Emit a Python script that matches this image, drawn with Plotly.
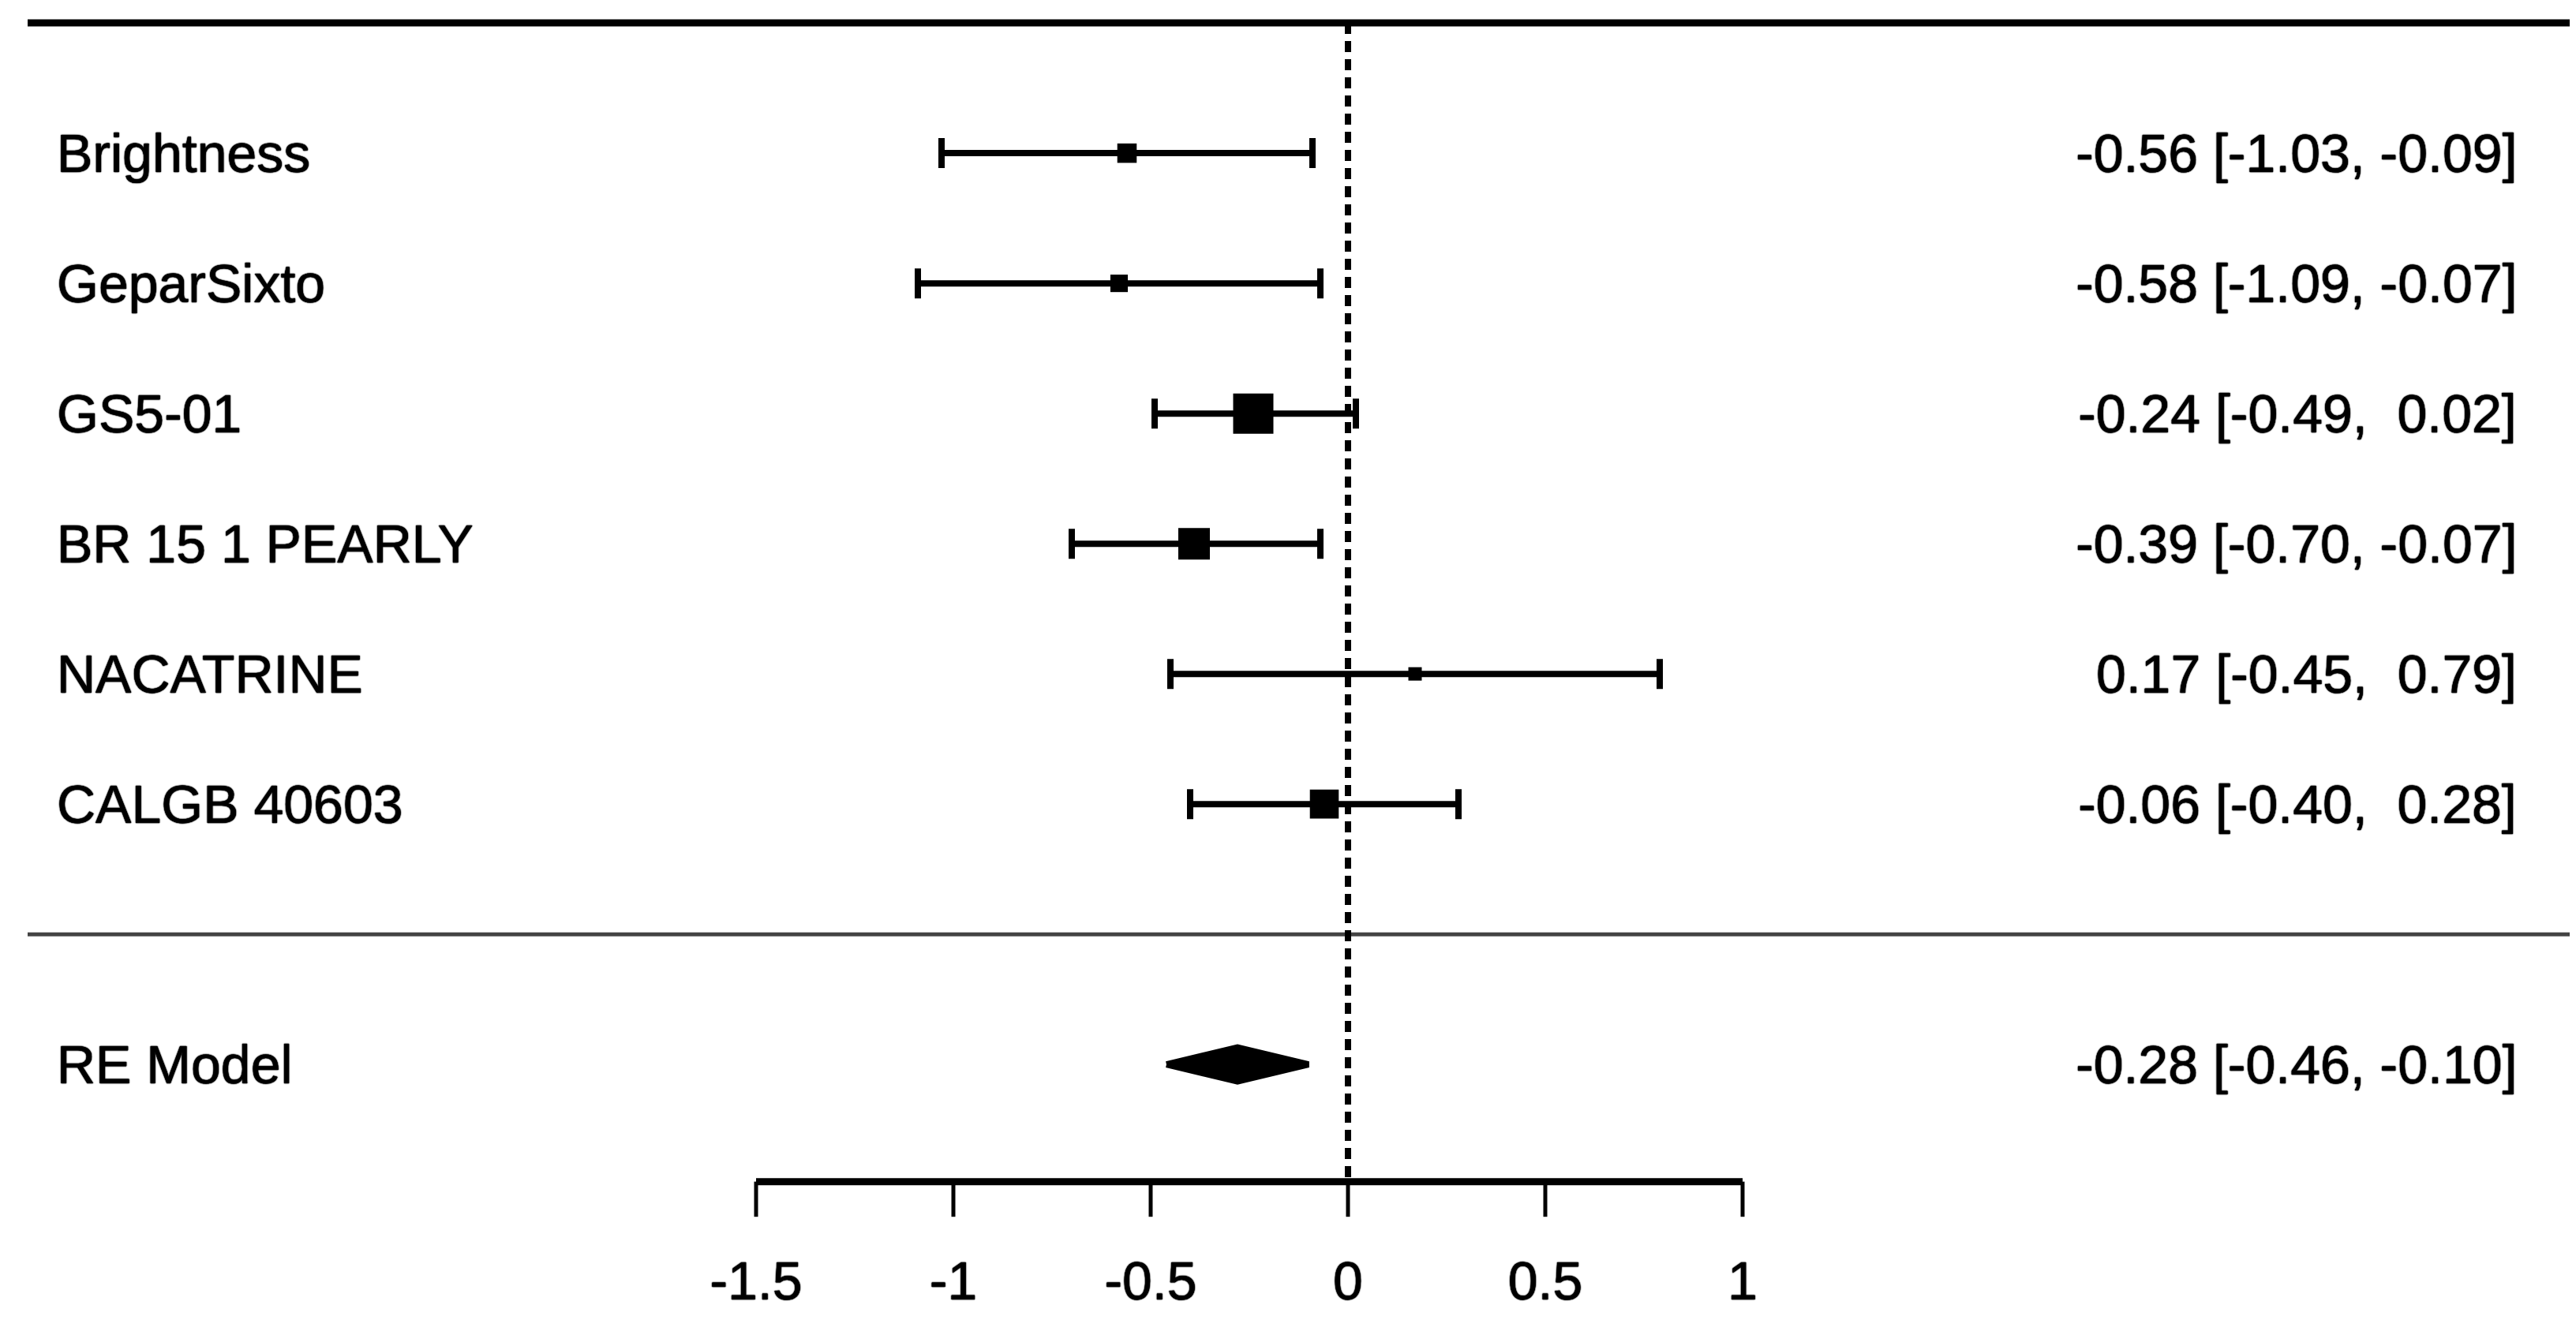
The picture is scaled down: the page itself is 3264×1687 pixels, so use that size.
import plotly.graph_objects as go

# study level effects (mean difference with 95% CI)
studies = ["Brightness", "GeparSixto", "GS5-01", "BR 15 1 PEARLY", "NACATRINE", "CALGB 40603"]
estimate = [-0.56, -0.58, -0.24, -0.39, 0.17, -0.06]
ci_lower = [-1.03, -1.09, -0.49, -0.70, -0.45, -0.40]
ci_upper = [-0.09, -0.07, 0.02, -0.07, 0.79, 0.28]

# pooled random effects model
re_label = "RE Model"
re_estimate = -0.28
re_lower = -0.46
re_upper = -0.10

tick_values = [-1.5, -1, -0.5, 0, 0.5, 1]
tick_labels = ["-1.5", "-1", "-0.5", "0", "0.5", "1"]

FONT = "Liberation Sans, Arial, sans-serif"
FSIZE = 68
SHADOW = "0px 0px 1.5px black, 0px 0px 1.5px black, 0px 0px 1px black"

k = len(studies)
rows = list(range(k, 0, -1))
re_row = -1
axis_y = -1.9

# marker size like metafor: linear in 1/se, rescaled to 0.5..1.5
inv_se = [3.92 / (u - l) for l, u in zip(ci_lower, ci_upper)]
lo_w, hi_w = min(inv_se), max(inv_se)
psize = [0.5 + (w - lo_w) / (hi_w - lo_w) for w in inv_se]
msize = [34 * p for p in psize]

X_MIN, X_MAX = -3.40, 3.128
Y_MIN, Y_MAX = -3.096, 7.128


def fmt(v, width):
    return f"{v:.2f}".rjust(width)


all_vals = estimate + ci_lower + ci_upper + [re_estimate, re_lower, re_upper]
w = max(len(f"{v:.2f}") for v in all_vals)


def ci_text(e, l, u):
    s = f"{fmt(e, w)} [{fmt(l, w)}, {fmt(u, w)}]"
    return s.replace(" ", "\u00a0")


label_font = dict(family=FONT, size=FSIZE, color="black", shadow=SHADOW)

fig = go.Figure()

# study CIs with squares
fig.add_trace(go.Scatter(
    x=estimate, y=rows,
    mode="markers",
    marker=dict(symbol="square", size=msize, color="black", opacity=1, line=dict(width=0)),
    error_x=dict(
        type="data", symmetric=False,
        array=[u - e for e, u in zip(estimate, ci_upper)],
        arrayminus=[e - l for e, l in zip(estimate, ci_lower)],
        color="black", thickness=8, width=19,
    ),
    showlegend=False, hoverinfo="skip",
))

# pooled diamond
h = 0.13
fig.add_trace(go.Scatter(
    x=[re_lower, re_estimate, re_upper, re_estimate, re_lower],
    y=[re_row, re_row + h, re_row, re_row - h, re_row],
    mode="lines", fill="toself", fillcolor="black",
    line=dict(color="black", width=8),
    showlegend=False, hoverinfo="skip",
))

# x axis drawn in data space
fig.add_trace(go.Scatter(
    x=[tick_values[0], tick_values[-1]], y=[axis_y, axis_y],
    mode="lines", line=dict(color="black", width=9),
    showlegend=False, hoverinfo="skip",
))
tx, ty = [], []
for t in tick_values:
    tx += [t, t, None]
    ty += [axis_y, axis_y - 0.27, None]
fig.add_trace(go.Scatter(
    x=tx, y=ty, mode="lines", line=dict(color="black", width=5),
    showlegend=False, hoverinfo="skip",
))
fig.add_trace(go.Scatter(
    x=tick_values, y=[axis_y - 0.8] * len(tick_values),
    mode="text", text=tick_labels,
    textfont=label_font,
    showlegend=False, hoverinfo="skip",
))

# frame lines
left_x = -3.346
fig.add_shape(type="line", x0=left_x, x1=X_MAX, y0=k + 1, y1=k + 1,
              line=dict(color="black", width=9))
fig.add_shape(type="line", x0=left_x, x1=X_MAX, y0=0, y1=0,
              line=dict(color="#444444", width=5))
fig.add_shape(type="line", x0=0, x1=0, y0=k + 1, y1=axis_y,
              line=dict(color="black", width=8, dash="14px,9px"))

# labels
for name, e, l, u, r in zip(studies, estimate, ci_lower, ci_upper, rows):
    fig.add_annotation(x=-3.276, y=r, text=name, xanchor="left", yanchor="middle",
                       showarrow=False, font=label_font)
    fig.add_annotation(x=2.966, y=r, text=ci_text(e, l, u), xanchor="right", yanchor="middle",
                       showarrow=False, font=label_font)
fig.add_annotation(x=-3.276, y=re_row, text=re_label, xanchor="left", yanchor="middle",
                   showarrow=False, font=label_font)
fig.add_annotation(x=2.966, y=re_row, text=ci_text(re_estimate, re_lower, re_upper),
                   xanchor="right", yanchor="middle",
                   showarrow=False, font=label_font)

fig.update_layout(
    width=3264, height=1687,
    margin=dict(l=0, r=0, t=0, b=0),
    paper_bgcolor="white", plot_bgcolor="white",
    xaxis=dict(range=[X_MIN, X_MAX], visible=False, fixedrange=True),
    yaxis=dict(range=[Y_MIN, Y_MAX], visible=False, fixedrange=True),
    font=dict(family=FONT, color="black"),
)

fig.write_html("out.html")
